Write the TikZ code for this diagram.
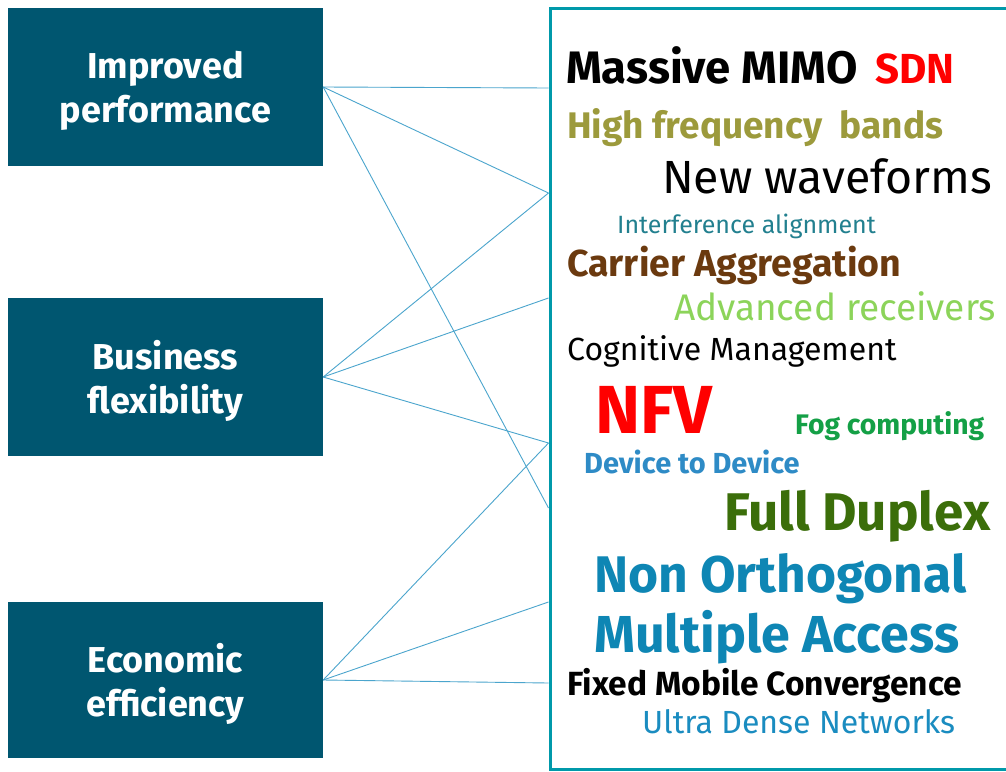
\documentclass[tikz,border=0pt]{standalone}
\usepackage{fontspec}
\setmainfont{Fira Sans}
\usetikzlibrary{positioning}

\definecolor{boxblue}{RGB}{0,86,112}
\definecolor{panelteal}{RGB}{0,153,170}
\definecolor{linkblue}{RGB}{75,165,205}
\definecolor{olive}{RGB}{156,154,60}
\definecolor{darkteal}{RGB}{34,128,143}
\definecolor{brownish}{RGB}{107,58,15}
\definecolor{lightgreen}{RGB}{140,212,90}
\definecolor{foggreen}{RGB}{20,160,70}
\definecolor{devblue}{RGB}{46,139,198}
\definecolor{duplexgreen}{RGB}{59,110,10}
\definecolor{nomablue}{RGB}{14,134,180}
\definecolor{udnblue}{RGB}{26,140,192}

\tikzset{box/.style={fill=boxblue, minimum width=315pt, minimum height=158pt, inner sep=0pt}}
\tikzset{boxlabel/.style={text=white, align=center, inner sep=0pt, font=\fontsize{36}{44}\selectfont\bfseries}}
\tikzset{link/.style={draw=linkblue, line width=0.9pt}}
\tikzset{word/.style={anchor=base west, inner sep=0pt}}

\begin{document}
\begin{tikzpicture}[x=1pt,y=-1pt]

    \fill[white] (0,0) rectangle (1006,771);
    \useasboundingbox (0,0) rectangle (1006,771);

    % left boxes
    \node[box] (perf) at (165.5,87) {};
    \node[box] (flex) at (165.5,377) {};
    \node[box, minimum height=156pt] (econ) at (165.5,680) {};
    \node[boxlabel] at ([yshift=-4pt]perf.center) {Improved\\performance};
    \node[boxlabel] at ([yshift=-4pt]flex.center) {Business\\flexibility};
    \node[boxlabel] at ([yshift=-4pt]econ.center) {Economic\\efficiency};

    % panel
    \draw[panelteal, line width=3pt] (550,8) rectangle (1015,769);

    \coordinate (a) at (548.5,88);
    \coordinate (b) at (548.5,193);
    \coordinate (c) at (548.5,298);
    \coordinate (d) at (548.5,443);
    \coordinate (e) at (548.5,508);
    \coordinate (f) at (548.5,602);
    \coordinate (g) at (548.5,683);

    \draw[link] (perf.east) -- (a);
    \draw[link] (perf.east) -- (b);
    \draw[link] (perf.east) -- (e);

    \draw[link] (flex.east) -- (b);
    \draw[link] (flex.east) -- (c);
    \draw[link] (flex.east) -- (d);

    \draw[link] (econ.east) -- (d);
    \draw[link] (econ.east) -- (f);
    \draw[link] (econ.east) -- (g);

    % word cloud
    \node[word, font=\fontsize{45.5}{50}\selectfont\bfseries] (mimo) at (566,83) {Massive MIMO};
    \node[word, font=\fontsize{42}{50}\selectfont\bfseries, text=red] (sdn) at (875,83) {SDN};
    \node[word, font=\fontsize{37}{40}\selectfont\bfseries, text=olive] (hfb) at (567,138) {High frequency\ \ bands};
    \node[word, font=\fontsize{46.5}{46}\selectfont, text=black] (wave) at (662,193) {New waveforms};
    \node[word, font=\fontsize{25}{26}\selectfont, text=darkteal] (ia) at (617,233) {Interference alignment};
    \node[word, font=\fontsize{37.5}{40}\selectfont\bfseries, text=brownish] (ca) at (567,276) {Carrier Aggregation};
    \node[word, font=\fontsize{37}{42}\selectfont, text=lightgreen] (adv) at (674,320) {Advanced receivers};
    \node[word, font=\fontsize{32}{36}\selectfont, text=black] (cog) at (567,360) {Cognitive Management};
    \node[word, font=\fontsize{68}{70}\selectfont\bfseries, text=red] (nfv) at (595,433) {NFV};
    \node[word, font=\fontsize{28.3}{34}\selectfont\bfseries, text=foggreen] (fog) at (795,434) {Fog computing};
    \node[word, font=\fontsize{29}{30}\selectfont\bfseries, text=devblue] (d2d) at (584,473) {Device to Device};
    \node[word, font=\fontsize{53}{56}\selectfont\bfseries, text=duplexgreen] (fd) at (724,530) {Full Duplex};
    \node[word, font=\fontsize{51.5}{54}\selectfont\bfseries, text=nomablue] (non) at (594,592) {Non Orthogonal};
    \node[word, font=\fontsize{52}{54}\selectfont\bfseries, text=nomablue] (ma) at (594,652) {Multiple Access};
    \node[word, font=\fontsize{33.5}{30}\selectfont\bfseries, text=black] (fmc) at (567,695) {Fixed Mobile Convergence};
    \node[word, font=\fontsize{32}{32}\selectfont, text=udnblue] (udn) at (642,733) {Ultra Dense Networks};

\end{tikzpicture}
\end{document}
